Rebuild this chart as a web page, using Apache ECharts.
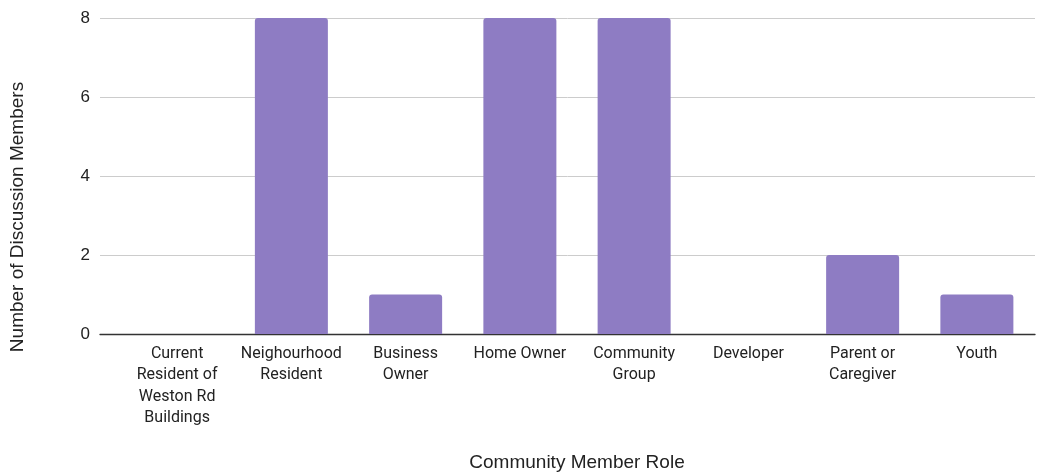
<!DOCTYPE html>
<html>
<head>
<meta charset="utf-8">
<script src="https://cdn.jsdelivr.net/npm/echarts@6/dist/echarts.min.js"></script>
<style>
  html, body { margin: 0; padding: 0; background: #ffffff; }
  #chart { width: 1043px; height: 474px; }
</style>
</head>
<body>
<div id="chart"></div>
<script>
// Community member roles and how many discussion members held each
const roles = [
  'Current Resident of Weston Rd Buildings',
  'Neighourhood Resident',
  'Business Owner',
  'Home Owner',
  'Community Group',
  'Developer',
  'Parent or Caregiver',
  'Youth'
];
const members = [0, 8, 1, 8, 8, 0, 2, 1];
const yTicks = [0, 2, 4, 6, 8];

const yMin = yTicks[0];
const yMax = yTicks[yTicks.length - 1];
const yStep = yTicks[1] - yTicks[0];

const labelFont = '16px Roboto';
const labelMaxWidth = 104;

// Greedy word wrap measured with the label font, so wrapped lines carry no leading spaces
const measureCtx = document.createElement('canvas').getContext('2d');
measureCtx.font = labelFont;
function wrapLabel(text) {
  const words = text.split(' ');
  const lines = [];
  let line = '';
  for (const w of words) {
    const candidate = line ? line + ' ' + w : w;
    if (line && measureCtx.measureText(candidate).width > labelMaxWidth) {
      lines.push(line);
      line = w;
    } else {
      line = candidate;
    }
  }
  if (line) lines.push(line);
  return lines.join('\n');
}

const chart = echarts.init(document.getElementById('chart'), null, { renderer: 'canvas' });

const plotTop = 18, plotBottom = 474 - 334;

chart.setOption({
  animation: false,
  backgroundColor: '#ffffff',
  grid: [
    // background grid: gridlines and baseline spanning the full plot width
    { left: 100, right: 8, top: plotTop, bottom: plotBottom, containLabel: false, outerBoundsMode: 'none' },
    // bar grid: category bands
    { left: 120, right: 9, top: plotTop, bottom: plotBottom, containLabel: false, outerBoundsMode: 'none' }
  ],
  xAxis: [
    {
      gridIndex: 0, type: 'value', min: 0, max: 1,
      axisLine: { show: true, onZero: true, lineStyle: { color: '#333333', width: 1.3 } },
      axisTick: { show: false }, axisLabel: { show: false }, splitLine: { show: false }
    },
    {
      gridIndex: 1, type: 'category', data: roles,
      axisLine: { show: false }, axisTick: { show: false },
      axisLabel: {
        interval: 0, margin: 9, color: '#222222',
        fontFamily: 'Roboto', fontSize: 16, lineHeight: 21.5,
        align: 'center', formatter: wrapLabel
      },
      name: 'Community Member Role', nameLocation: 'middle', nameGap: 119,
      nameTextStyle: { fontFamily: 'Liberation Sans', fontSize: 19, color: '#222222' }
    }
  ],
  yAxis: [
    {
      gridIndex: 0, type: 'value', min: yMin, max: yMax, interval: yStep,
      axisLine: { show: false }, axisTick: { show: false },
      axisLabel: { color: '#222222', fontFamily: 'Liberation Sans', fontSize: 17, margin: 10 },
      splitLine: { show: true, lineStyle: { color: '#cccccc', width: 1 } }
    },
    {
      gridIndex: 1, type: 'value', min: yMin, max: yMax, interval: yStep,
      show: false, splitLine: { show: false }
    }
  ],
  graphic: [
    {
      type: 'text', x: 18, y: 217, rotation: Math.PI / 2,
      style: {
        text: 'Number of Discussion Members',
        fontFamily: 'Liberation Sans', fontSize: 19, fill: '#222222',
        align: 'center', verticalAlign: 'middle'
      }
    }
  ],
  series: [
    {
      type: 'bar', xAxisIndex: 1, yAxisIndex: 1,
      data: members, barWidth: 73,
      itemStyle: { color: '#8e7cc3', borderRadius: [3, 3, 0, 0] },
      z: 3
    }
  ]
});
</script>
</body>
</html>
